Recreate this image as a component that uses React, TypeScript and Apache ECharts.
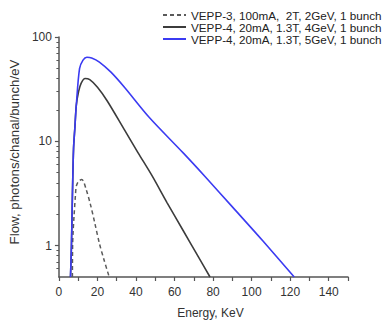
import React, { useEffect, useRef } from "react";
import * as echarts from "echarts";

const seriesNames = [
  "VEPP-3, 100mA,  2T, 2GeV, 1 bunch",
  "VEPP-4, 20mA, 1.3T, 4GeV, 1 bunch",
  "VEPP-4, 20mA, 1.3T, 5GeV, 1 bunch",
];

const energyV3 = [7.0, 7.1, 7.4, 7.8, 8.6, 9.0, 10.2, 11.9, 14.1, 16.3, 18.7, 21.0, 23.5, 26.1];
const fluxV3 = [0.5, 1.0, 1.4, 1.87, 3.1, 3.7, 4.15, 4.3, 3.47, 2.5, 1.62, 1.05, 0.72, 0.5];

const energyV4a = [6.0, 6.5, 7.0, 7.6, 8.3, 9.0, 10.2, 11.5, 13.6, 16, 20, 25, 34.1, 41, 48.3, 56, 64.6, 72, 78.4];
const fluxV4a = [0.5, 1.0, 3.0, 8.6, 13.7, 22, 29.9, 36, 40, 39, 33, 24.5, 12.8, 7.8, 4.68, 2.6, 1.38, 0.8, 0.5];

const energyV4b = [6.0, 6.5, 7.0, 7.6, 8.3, 9.0, 10.7, 12.5, 14.5, 17, 21, 27, 34.1, 46.8, 64.6, 75.8, 90, 106, 122.1];
const fluxV4b = [0.5, 1.0, 3.0, 8.6, 13.7, 22, 49.7, 60, 64, 63, 57.5, 46, 32.8, 17.0, 7.7, 4.6, 2.35, 1.1, 0.5];

const yMajorTicks = [1, 10, 100];
const yMinorTicks = [0.6, 0.7, 0.8, 0.9, 2, 3, 4, 5, 6, 7, 8, 9, 20, 30, 40, 50, 60, 70, 80, 90];

const xTitle = "Energy, KeV";
const yTitle = "Flow, photons/chanal/bunch/eV";

const pairs = (xs: number[], ys: number[]) => xs.map((x, i) => [x, ys[i]]);

export default function App() {
  const ref = useRef<HTMLDivElement>(null);
  useEffect(() => {
    if (!ref.current) return;
    const chart = echarts.init(ref.current, undefined, { renderer: "svg" });
    const font = "'Liberation Sans', Arial, sans-serif";
    const axisColor = "#555";
    chart.setOption({
      animation: false,
      textStyle: { fontFamily: font },
      grid: { left: 52, right: 36, top: 37, bottom: 44 },
      legend: {
        orient: "vertical",
        left: 157,
        top: 4,
        itemWidth: 23,
        itemHeight: 14,
        itemGap: 0,
        itemStyle: { opacity: 0 },
        textStyle: { fontSize: 11.7, color: "#222", fontFamily: font },
        data: seriesNames,
      },
      xAxis: {
        type: "value",
        min: 0,
        max: 150,
        interval: 10,
        name: xTitle,
        nameLocation: "middle",
        nameGap: 30,
        nameTextStyle: { fontSize: 12, color: "#333", padding: [0, 0, 0, 14] },
        axisLine: { lineStyle: { color: axisColor, width: 1.5 } },
        axisTick: { show: true, length: 4, interval: 0, lineStyle: { color: axisColor, width: 1.2 } },
        axisLabel: {
          fontSize: 12,
          color: "#333",
          margin: 9,
          formatter: (v: number) => (v % 20 === 0 && v < 150 ? String(v) : ""),
        },
        splitLine: { show: false },
      },
      yAxis: [
        {
          type: "log",
          logBase: 10,
          min: 0.5,
          max: 100,
          name: yTitle,
          nameLocation: "middle",
          nameGap: 33,
          nameTextStyle: { fontSize: 13.3, color: "#333", padding: [0, 0, 0, 10] },
          axisLine: { show: true, lineStyle: { color: axisColor, width: 1.5 } },
          axisTick: { show: true, length: 4, customValues: yMajorTicks, lineStyle: { color: axisColor, width: 1.2 } },
          axisLabel: {
            fontSize: 12,
            color: "#333",
            margin: 7,
            customValues: yMajorTicks,
            formatter: (v: number) => String(v),
          },
          splitLine: { show: false },
        },
        {
          type: "log",
          logBase: 10,
          min: 0.5,
          max: 100,
          position: "left",
          axisLine: { show: false },
          axisTick: { show: true, length: 2.5, customValues: yMinorTicks, lineStyle: { color: axisColor, width: 1 } },
          axisLabel: { show: false },
          splitLine: { show: false },
        },
      ],
      series: [
        {
          name: seriesNames[0],
          type: "line",
          data: pairs(energyV3, fluxV3),
          smooth: 0.3,
          symbol: "none",
          lineStyle: { color: "#5a5a5a", width: 1.5, type: [4, 3] },
          itemStyle: { color: "#5a5a5a" },
          z: 2,
        },
        {
          name: seriesNames[1],
          type: "line",
          data: pairs(energyV4a, fluxV4a),
          smooth: 0.3,
          symbol: "none",
          lineStyle: { color: "#3c3c3c", width: 1.6 },
          itemStyle: { color: "#3c3c3c" },
          z: 3,
        },
        {
          name: seriesNames[2],
          type: "line",
          data: pairs(energyV4b, fluxV4b),
          smooth: 0.3,
          symbol: "none",
          lineStyle: { color: "#3b3bf2", width: 1.6 },
          itemStyle: { color: "#3b3bf2" },
          z: 4,
        },
      ],
    });
    return () => chart.dispose();
  }, []);
  return (
    <div
      ref={ref}
      style={{ position: "absolute", left: 0, top: 0, width: 384, height: 324, background: "#fff" }}
    />
  );
}
